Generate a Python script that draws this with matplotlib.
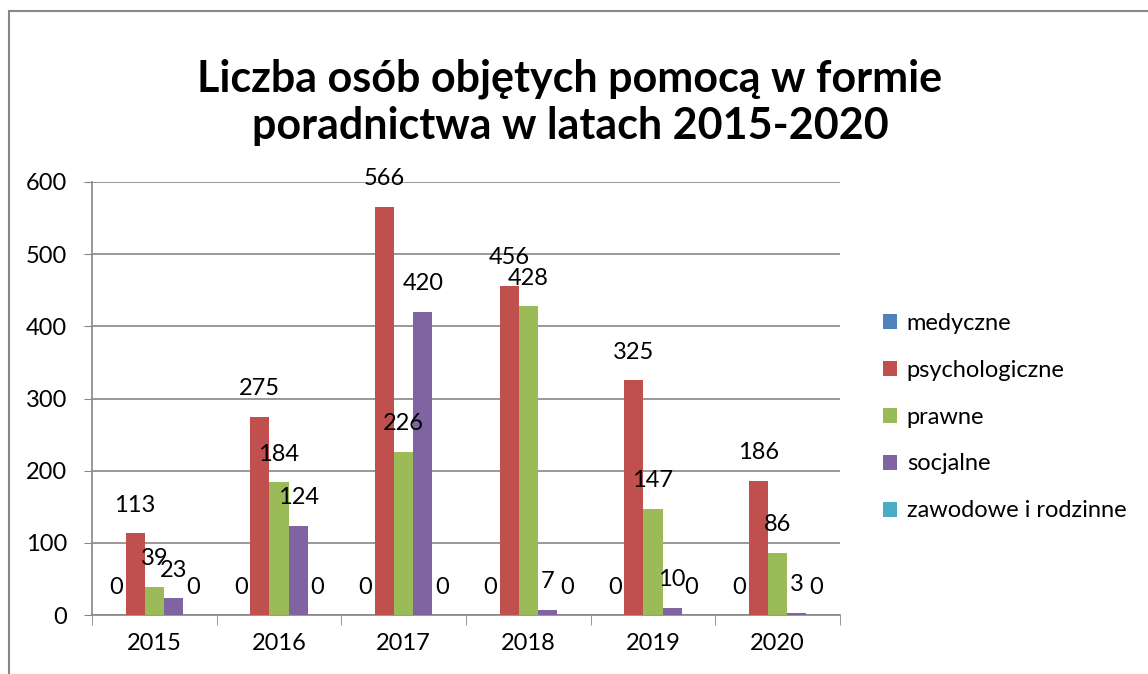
import numpy as np
import matplotlib
matplotlib.use("Agg")
import matplotlib.pyplot as plt
from matplotlib.patches import Rectangle

plt.rcParams['font.family'] = ['Lato', 'DejaVu Sans']

years = ['2015', '2016', '2017', '2018', '2019', '2020']
series = ['medyczne', 'psychologiczne', 'prawne', 'socjalne', 'zawodowe i rodzinne']
medyczne = [0, 0, 0, 0, 0, 0]
psychologiczne = [113, 275, 566, 456, 325, 186]
prawne = [39, 184, 226, 428, 147, 86]
socjalne = [23, 124, 420, 7, 10, 3]
zawodowe = [0, 0, 0, 0, 0, 0]
colors = ['#4F81BD', '#C0504D', '#9BBB59', '#8064A2', '#4BACC6']

values = [medyczne, psychologiczne, prawne, socjalne, zawodowe]

fig = plt.figure(figsize=(11.48, 6.74), dpi=100)
ax = fig.add_axes([92/1148, 59/674, 748/1148, 433/674])

# outer chart frame
fig.patches.append(Rectangle((9/1148, -0.1), 2, (674-11)/674 + 0.1, transform=fig.transFigure,
                             fill=False, edgecolor='#878787', lw=1.5))

x = np.arange(len(years))
w = 1 / 6.5
for i, (name, vals) in enumerate(zip(series, values)):
    pos = x + (i - 2) * w
    ax.bar(pos, vals, w, color=colors[i], label=name, zorder=3)
    for p, v in zip(pos, vals):
        ax.annotate(str(v), (p, v), xytext=(0, 28), textcoords='offset pixels',
                    ha='center', va='center', fontsize=17, zorder=4)

ax.set_xlim(-0.5, 5.5)
ax.set_ylim(0, 600)
ax.set_yticks(range(0, 601, 100))
ax.tick_params(axis='y', labelsize=17, length=6, color='#868686', pad=12)
ax.set_xticks(x)
ax.set_xticklabels(years)
ax.set_xticks(np.arange(-0.5, 6, 1), minor=True)
ax.tick_params(axis='x', which='major', length=0, labelsize=17, pad=13)
ax.tick_params(axis='x', which='minor', length=7, color='#868686')
ax.grid(axis='y', color='#868686', lw=1.2, zorder=0)
for s in ['top', 'right']:
    ax.spines[s].set_visible(False)
for s in ['left', 'bottom']:
    ax.spines[s].set_color('#868686')
    ax.spines[s].set_linewidth(1.2)

fig.text(570/1148, 1 - 102/674, 'Liczba osób objętych pomocą w formie\nporadnictwa w latach 2015-2020',
         ha='center', va='center', fontsize=31, fontweight='bold', linespacing=1.22)

fig.legend(loc='center left', bbox_to_anchor=(862/1148, 1 - 417/674), frameon=False,
           fontsize=17, handlelength=0.6, handleheight=0.6, handletextpad=0.4, labelspacing=1.1)

fig.savefig('out.png', dpi=100)
